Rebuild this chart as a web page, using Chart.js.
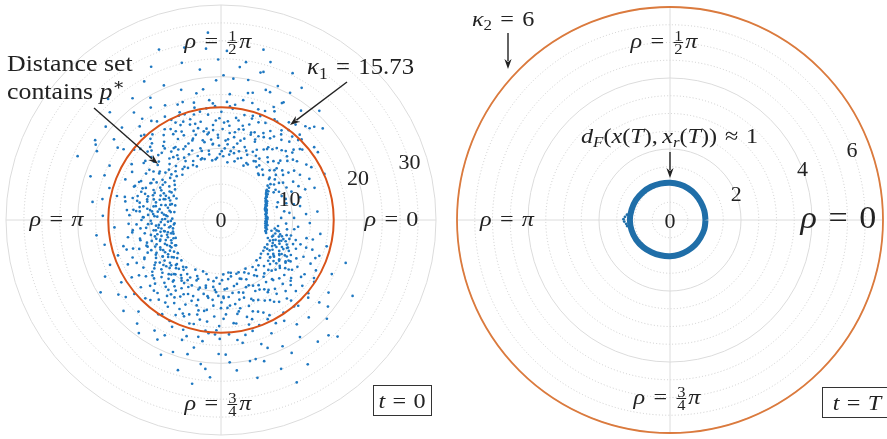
<!DOCTYPE html>
<html>
<head>
<meta charset="utf-8">
<script src="https://cdn.jsdelivr.net/npm/chart.js@4"></script>
<style>
  html,body{margin:0;padding:0;background:#fff;}
  #wrap{position:relative;width:887px;height:439px;overflow:hidden;}
  canvas{position:absolute;top:0;}
  #cvT0{left:0;} #cvT{left:443px;}
</style>
</head>
<body>
<div id="wrap">
  <canvas id="cvT0" width="443" height="439"></canvas>
  <canvas id="cvT" width="444" height="439"></canvas>
</div>
<script>
// radial ranges and grid rings
const rMaxT0 = 30, rMaxT = 6;
const ticksT0 = [10, 20, 30];
const ticksT = [2, 4, 6];
const minorT0 = 2.5, minorT = 0.5;
const kappa1 = 15.73;   // distance bound at t = 0
const kappa2 = 6;       // distance bound at t = T

// samples at t = 0 as [angle deg, distance]
const cloudT0 = [
  // thin streak right of the origin
  [-16,6.55],[-13.6,6.38],[-11.5,6.53],[-9,6.38],[-7.4,6.25],[-5.4,6.43],[-3.6,6.31],[-1.8,6.2],[0,6.35],[1.8,6.25],
  [3.6,6.41],[5.4,6.33],[7.4,6.25],[9,6.43],[10.9,6.36],[12.3,6.55],[14.2,6.5],[16.2,6.46],[17.4,6.7],[19.2,6.67],
  [21,6.7],[22,6.95],[24,6.9],[25.8,6.89],[26.6,7.16],[28.2,7.2],[29,7.43],[31,7.36],[31.2,7.72],[33.3,7.65],
  [33.9,8.07],[36.4,8.08],[35.9,8.52],[-14.5,6.45],[-10,6.3],[-6.5,6.5],[-2.5,6.4],[1,6.45],[4.5,6.3],[8,6.4],
  [11.5,6.5],[15,6.38],[18.5,6.55],[20,6.8],[23,6.75],[27,7.05],[30,7.25],[32.5,7.5],[-4.5,6.2],[2.8,6.5],[13,6.3],
  // lower right cluster
  [-12,7.2],[-14,7.8],[-16,8.4],[-18,7.5],[-20,8.1],[-22,8.8],[-24,7.9],[-26,8.6],[-28,9.2],[-30,8.3],
  [-17,9.1],[-21,7.0],[-25,9.6],[-19,8.9],[-23,7.4],[-27,8.0],[-31,9.5],[-33,8.7],[-35,9.9],[-15,8.8],
  [-13,9.4],[-29,10.2],[-11,8.2],[-36,8.1],[-38,9.3],[-20.5,9.8],[-24.5,10.4],[-9,7.6],[-32,7.6],[-18.5,10.6],
  [-8,9.3],[-5,10.8],[2,8.4],[6,9.6],[10,11.2],[-2,12.4],[13,8.0],[4,11.9],[-6,8.0],
  [-12,13.1],[-22,14.2],[-18,12.5],[-8,14.0],[5,13.5],[-28,15.0],
  [-39.2,10.6],[-37.4,8.6],[-36.2,11.7],[-34.7,9.0],[-33.5,10.8],[-32.0,8.0],[-30.8,11.3],[-29.3,9.7],[-27.8,7.3],[-26.6,10.9],
  [-25.1,8.3],[-23.9,9.3],[-22.4,10.1],[-21.2,7.8],[-19.7,8.6],[-18.2,9.5],[-16.7,7.6],[-15.5,9.9],[-13.7,8.5],[-12.5,10.0],
  [-10.6,7.9],[-7.2,10.3],[-3.1,9.1],[1.6,10.2],[7.8,8.9],[12.1,10.4],[17.3,8.3],[21.5,9.1],[23.6,11.8],[26.4,10.2],
  [29.8,12.7],[32.6,9.6],[35.1,11.5],[37.7,13.4],[39.4,9.9],[27.7,8.3],[33.8,8.9],[30.3,14.6],[19.0,13.8],[14.4,9.4],
  // upper right
  [18,9.5],[22,10.6],[26,9.0],[28,11.4],[31,10.1],[34,12.3],[37,9.4],[39,11.0],[20,12.5],[25,13.6],
  [33,14.2],[36,10.7],[40,13.1],[29,8.7],[16,11.5],[24,15.8],[38,16.5],[35,16.5],
  [41,9.0],[43,10.2],[45,11.7],[47,8.6],[49,12.9],[51,10.4],[53,14.0],[55,9.3],[57,11.8],[59,13.3],
  [42,14.8],[46,15.5],[50,8.2],[54,12.2],[58,10.1],[44,12.8],[52,16.9],[48,17.6],[56,15.1],[45,18.4],
  [42,19.1],[46,17.8],[45,15.9],[48.0,20.5],[53.8,18.9],[58.6,21.6],
  [61,9.4],[63,11.0],[64,13.5],[66,8.7],[67,12.2],[69,14.6],[70,10.3],[72,9.1],[73,15.2],[74,11.8],
  [76,13.0],[77,8.4],[78,10.9],[80,14.1],[81,12.4],[82,9.7],[84,15.6],[85,11.3],[86,13.8],[87,10.0],
  [88,8.9],[89,12.7],[62,15.9],[68,16.4],[75,16.9],[83,16.2],[65,10.5],[71,12.9],[79,9.5],
  [62,18.6],[67,20.3],[71,19.2],[74,21.5],[78,18.1],[81,22.3],[85,19.8],[88,23.6],[64,22.8],[76,24.5],
  [83,21.5],[75,21.3],[89,20.2],[76,18.3],[69,19.1],[61.5,20.2],[62.5,18.4],[65.0,17.4],[72.6,23.1],[79.0,19.9],[86.0,17.6],
  [40.5,8.8],[41.7,12.4],[42.9,10.6],[44.1,14.1],[45.6,9.7],[46.8,13.2],[48.3,11.0],[49.5,15.3],[50.7,9.1],[52.2,12.7],
  [53.4,10.9],[54.9,14.6],[56.1,8.9],[57.6,13.8],[58.8,11.5],[60.3,15.8],[61.5,10.2],[62.7,13.0],[64.2,8.6],[65.4,14.9],
  [66.6,11.9],[68.1,9.8],[69.3,15.5],[70.8,12.6],[72.0,10.7],[73.5,13.9],[74.7,8.9],[76.2,11.4],[77.4,15.0],[78.9,12.9],
  [80.1,10.3],[81.6,14.4],[82.8,9.2],[84.3,12.2],[85.5,15.9],[86.7,11.1],[88.2,13.6],[89.4,9.6],
  [40.9,15.0],[47.3,16.2],[55.2,16.6],[63.8,16.9],[71.4,16.3],[79.5,17.0],[87.1,16.5],[44.7,11.3],[51.3,8.3],
  [59.4,9.5],[67.5,8.2],[75.3,9.9],[83.7,8.1],[43.4,13.7],[57.0,12.1],[65.9,12.8],[73.0,14.8],[81.0,11.7],[89.8,15.1],
  [48.9,14.5],[61.0,14.2],[69.0,13.1],[77.0,13.5],[84.9,13.2],[53.0,15.7],[85.0,10.6],
  // upper left
  [91,9.2],[92,11.5],[93,13.9],[95,8.5],[96,10.7],[97,14.8],[98,12.3],[100,9.8],[101,15.4],[102,11.1],
  [104,13.2],[105,8.8],[106,10.4],[108,14.0],[109,12.0],[110,9.5],[112,15.7],[113,11.6],[114,13.5],[116,10.2],
  [117,8.6],[118,12.8],[119,14.5],[94,16.3],[103,16.8],[111,16.1],[99,12.9],[107,9.0],[115,15.0],
  [92,19.5],[95,24.0],[98,21.2],[101,18.0],[104,22.6],[107,19.0],[110,25.3],[113,20.4],[116,17.8],[119,22.1],[94,26.2],
  [91.0,22.4],[97.8,18.4],[102.0,24.6],[108.0,17.3],[114.5,23.5],[120.0,19.7],[127.9,17.9],[135.9,21.6],[143.0,18.7],
  [90.9,14.2],[92.1,11.9],[93.6,8.7],[94.8,13.3],[96.3,10.6],[97.5,15.7],[99.0,12.1],[100.2,9.3],[101.7,14.0],[102.9,11.4],
  [104.4,15.2],[105.6,10.0],[107.1,13.0],[108.3,8.9],[109.8,11.8],[111.0,14.7],[112.5,10.5],[113.7,12.9],[115.2,9.1],[116.4,15.6],
  [117.9,11.2],[119.1,13.7],[120.6,10.1],[121.8,14.9],[123.3,12.0],[124.5,9.0],[126.0,13.5],[127.2,11.0],[128.7,15.3],[129.9,9.8],
  [131.4,12.5],[132.6,10.6],[134.1,14.2],[135.3,8.7],[136.8,11.9],[138.0,13.1],[139.5,10.2],
  [95.6,16.8],[103.3,16.1],[110.6,17.2],[118.5,16.4],[125.1,16.9],[133.5,16.2],[91.5,10.4],[98.4,8.4],[106.5,12.4],[114.3,8.2],
  [122.4,8.6],[130.5,8.3],[137.4,9.4],[97.0,11.3],[105.0,13.9],[113.1,14.4],[121.2,11.5],[128.2,12.7],[138.6,15.0],
  [93.0,15.9],[101.0,12.6],[109.0,15.6],[117.0,13.9],[124.0,10.9],[132.0,14.4],[139.0,12.4],[95.0,12.6],[107.0,14.7],[115.8,11.4],
  [121,9.6],[122,12.0],[124,14.3],[125,10.4],[127,8.9],[128,13.1],[130,11.2],[131,15.0],[133,9.3],[134,12.6],
  [136,10.1],[137,14.0],[139,11.7],[140,8.5],[142,13.4],[143,10.8],[145,12.2],[146,9.4],[148,14.7],[149,11.0],
  [123,16.4],[132,16.0],[141,15.6],[126,11.8],[135,13.7],[144,16.8],
  [122,18.5],[126,21.0],[129,19.3],[133,23.1],[137,18.9],[141,20.7],[145,17.6],[149,20.4],[131,17.3],[147.6,20.8],
  // left band
  [151,8.2],[152,9.6],[153,7.4],[155,8.8],[156,10.3],[157,7.9],[158,9.1],[160,8.5],[161,11.2],[162,7.2],
  [163,9.8],[165,8.0],[166,10.6],[167,7.6],[168,9.3],[170,8.7],[171,7.1],[172,10.0],[173,8.3],[175,9.5],
  [176,7.5],[177,8.9],[178,10.8],[179,7.8],[154,12.4],[159,13.0],[164,12.1],[169,13.6],[174,11.9],[157,14.5],
  [167,14.9],[177,12.8],[152,11.0],[171,11.5],[158,11.8],[162,10.7],[166,12.7],[170,11.0],[174,13.2],[176,10.2],
  [160,10.1],[168,11.6],[154,17.3],[159,17.4],[164,16.2],[172,18.1],[178,16.5],
  [151.0,19.8],[156.0,21.9],[161.5,19.2],[170.0,16.8],[187.0,17.5],[202.0,16.7],
  [140.4,9.2],[141.6,10.9],[142.8,8.1],[144.3,11.6],[145.5,9.9],[147.0,8.6],[148.2,12.3],[149.7,10.4],[150.9,7.9],[152.4,11.1],
  [153.6,9.3],[155.1,12.6],[156.3,8.4],[157.8,10.0],[159.0,7.6],[160.5,11.8],[161.7,9.0],[163.2,7.4],[164.4,10.7],[165.9,8.6],
  [167.1,12.0],[168.6,9.6],[169.8,7.3],[171.3,10.4],[172.5,8.9],[174.0,11.4],[175.2,7.7],[176.7,9.3],[177.9,10.9],[179.4,8.2],
  [180.6,9.8],[181.8,7.4],[183.3,10.2],[184.5,8.7],[186.0,11.3],[187.2,7.1],[188.7,9.5],[189.9,10.8],[191.4,8.0],[192.6,9.1],
  [194.1,11.6],[195.3,7.8],[196.8,10.1],[198.0,8.9],[199.5,12.1],[200.7,9.6],[202.2,7.5],[203.4,10.6],[204.9,8.3],[206.1,11.9],
  [207.6,9.1],[208.8,7.9],[210.3,10.5],[143.6,13.4],[151.6,14.1],[158.4,12.9],[166.5,13.8],[173.4,12.3],
  [182.4,12.9],[190.5,13.2],[197.4,13.8],[205.5,14.4],[146.4,7.7],[154.2,6.9],
  [162.3,6.7],[170.4,6.6],[178.5,6.8],[185.4,6.6],[193.5,6.9],[201.6,6.8],[209.4,7.2],
  [148.8,9.5],[156.9,11.4],[164.9,9.4],[172.9,9.7],[180.0,11.1],[188.1,8.4],[196.2,9.4],[204.3,9.3],
  [159.6,8.3],[174.6,8.0],[191.1,8.6],[207.0,10.1],[186.6,12.4],[199.0,11.0],
  [181,7.0],[182,8.4],[183,9.7],[184,6.5],[185,7.9],[186,10.5],[187,8.8],[188,7.3],[189,9.2],[190,6.8],
  [191,8.1],[192,10.0],[193,7.6],[194,9.5],[195,8.6],[196,6.9],[197,10.8],[198,7.8],[199,9.0],[200,8.2],
  [201,7.1],[202,9.9],[203,8.5],[204,11.2],[205,7.6],[206,9.4],[207,8.0],[208,10.3],[209,7.3],[210,9.0],
  [183,11.8],[188,12.5],[193,11.6],[198,12.9],[203,13.4],[207,12.0],[185,9.1],[195,7.2],[200,10.9],
  [184,14.9],[192,16.6],[199,15.2],[206,18.0],[195,14.1],
  // lower left
  [211,8.3],[212,9.6],[213,10.9],[214,7.9],[215,9.0],[216,11.5],[217,8.6],[218,10.2],[219,12.3],[220,9.3],
  [221,8.1],[222,11.0],[223,9.8],[224,12.8],[225,8.7],[226,10.5],[227,9.2],[228,11.8],[229,13.5],[230,9.9],
  [231,8.4],[232,10.9],[233,12.2],[234,9.5],[235,11.3],[236,13.9],[237,10.1],[238,8.9],[239,12.6],[240,11.0],
  [214,13.8],[220,14.6],[226,15.2],[232,14.1],[238,15.5],[217,12.0],[229,10.0],
  [216,17.7],[223,18.6],[228,17.2],[234,19.5],[239,18.0],[212,16.4],[207,13.2],
  [211.0,19.6],[219.0,17.1],[231.0,18.6],[244.0,17.9],[256.0,19.3],[260.0,23.2],
  [211.5,12.7],[213.0,8.8],[214.2,11.2],[215.7,9.7],[216.9,13.1],[218.4,8.4],[219.6,10.8],
  [221.1,12.4],[222.3,9.4],[223.8,11.5],[225.0,8.9],[226.5,13.6],[227.7,10.3],[229.2,9.0],[230.4,12.1],[231.9,10.7],[233.1,8.7],
  [234.6,13.0],[235.8,9.8],[237.3,11.7],[238.5,14.2],[239.7,10.2],[212.7,14.8],[220.5,15.9],[228.6,14.9],[236.4,15.8],
  [217.5,7.6],[225.6,7.9],[233.7,8.2],[212.1,9.6],[220.2,10.0],[228.3,11.0],[236.1,12.5],[222.9,13.5],[214.8,10.4],
  [241,9.6],[242,12.1],[244,10.4],[245,13.7],[246,11.3],[248,9.1],[249,14.4],[250,12.0],[252,10.2],[253,15.1],
  [254,11.6],[256,13.0],[257,9.4],[258,14.2],[260,10.8],[261,12.7],[262,15.6],[264,11.2],[265,9.8],[266,13.5],
  [268,10.6],[269,14.8],[243,15.8],[251,16.2],[259,16.6],[267,16.0],[247,8.5],[255,7.8],[263,8.6],[270,12.3],
  [242,18.9],[246,20.6],[250,19.6],[254,21.8],[258,18.2],[262,20.3],[266,22.0],[269,18.7],[252,17.6],[264,20.9],
  [240.6,13.3],[241.8,9.1],[243.3,11.6],[244.5,14.7],[246.0,10.0],[247.2,12.8],[248.7,8.8],[249.9,11.3],[251.4,13.9],[252.6,9.9],
  [254.1,12.4],[255.3,15.0],[256.8,10.6],[258.0,8.5],[259.5,12.9],[260.7,11.0],[262.2,14.3],[263.4,9.4],[264.9,12.0],[266.1,10.1],
  [267.6,15.4],[268.8,8.9],[245.4,16.4],[253.5,16.9],[261.3,17.1],[242.7,7.8],[250.8,7.6],[257.4,9.7],[265.5,8.1],
  [247.8,14.1],[255.9,13.6],[263.7,15.9],
  // lower right
  [271,8.4],[272,10.9],[273,13.2],[275,9.6],[276,12.0],[277,14.5],[279,10.3],[280,8.0],[281,13.0],[283,11.4],
  [284,9.2],[285,14.0],[287,10.6],[288,12.6],[289,8.7],[291,11.8],[292,13.8],[293,9.9],[295,12.3],[296,10.2],
  [297,14.9],[299,11.1],[274,16.0],[282,16.4],[290,15.6],[298,16.3],[278,7.4],[286,7.8],[294,8.0],
  [272,18.8],[276,21.1],[280,17.4],[284,20.0],[288,18.2],[292,22.4],[296,19.6],[295,25.0],[287,20.6],[281.6,20.1],
  [273.5,19.9],[283.0,22.6],[290.0,19.0],[298.0,21.0],[306.0,18.0],[313.0,22.0],[321.0,19.2],[334.0,17.2],[341.0,18.4],
  [270.3,11.5],[271.5,13.8],[273.0,9.7],[274.2,12.3],[275.7,10.8],[276.9,8.3],[278.4,14.6],[279.6,11.9],
  [281.1,9.4],[282.3,12.6],[283.8,10.4],[285.0,15.1],[286.5,11.3],[287.7,8.6],[289.2,13.5],[290.4,10.0],[291.9,12.1],[293.1,9.0],
  [294.6,14.2],[295.8,11.0],[297.3,8.4],[298.5,12.8],[300.0,10.5],[301.5,13.1],[302.7,9.3],[304.2,11.8],[305.4,14.0],[306.9,9.9],
  [308.1,12.2],[309.6,8.2],[310.8,10.9],[312.3,13.4],[313.5,9.6],[315.0,11.5],[316.5,14.4],[317.7,10.3],[319.2,8.7],[320.4,12.7],
  [321.9,9.8],[323.1,11.2],[324.6,13.7],[325.8,8.9],[327.3,10.7],[328.5,12.5],[329.7,9.4],
  [269.4,16.6],[277.8,16.9],[285.9,16.1],[294.0,17.3],[302.1,16.6],[310.2,15.8],[318.3,16.3],[326.4,15.6],
  [272.4,7.6],[280.5,7.5],[288.6,7.7],[296.7,7.6],[303.9,7.9],[311.4,7.5],[319.8,7.3],[327.9,7.2],
  [271.8,10.7],[279.9,13.3],[287.4,14.5],[295.2,15.3],[303.0,12.0],[311.0,14.9],[318.9,12.9],
  [301,9.0],[302,11.4],[303,13.6],[305,8.5],[306,10.7],[307,12.9],[309,9.6],[310,14.3],[311,11.1],[313,8.8],
  [314,12.4],[315,10.0],[317,13.3],[318,9.2],[319,11.7],[321,14.6],[322,10.4],[323,8.6],[325,12.1],[326,9.8],
  [327,13.9],[329,11.0],[304,15.6],[312,16.1],[320,15.9],[328,15.3],[316,7.6],[324,7.3],
  [301,23.5],[304,19.7],[308.5,21.7],[312,18.3],[317,20.2],[320,17.9],[326,18.1],[330,21.2],[315,23.0],
  [331,10.5],[333,11.8],[336,12.6],[339,11.2],[342,13.4],[345,10.8],[348,12.2],[334,13.9],[340,14.6],[346,15.2],
  [337,10.0],[343,11.6]
];

// samples at t = T: thick ring of distances near 1
const ringAngleT = [0,15,30,45,60,75,90,105,120,135,150,165,180,195,210,225,240,255,270,285,300,315,330,345];
const ringDistT  = [1.00,1.00,1.00,1.01,1.02,1.03,1.04,1.05,1.07,1.09,1.11,1.12,1.13,1.12,1.10,1.07,1.04,1.02,1.01,1.00,0.99,0.99,0.99,1.00];
const ringStrayT = [[176,1.27],[179,1.31],[182,1.29],[185,1.24],[173,1.22],[188,1.22]];

const SERIF = '"Liberation Serif","DejaVu Serif",serif';
const STRETCH = 1.1;
const INK = '#222';
const toXY = ([deg, r]) => ({ x: r*Math.cos(deg*Math.PI/180), y: r*Math.sin(deg*Math.PI/180) });

// tiny math-ish text layout: italics, sub/superscripts, stacked fractions
function layoutMath(ctx, parts, size){
  let w = 0; const out = [];
  for(const p of parts){
    if(p.g != null){ w += p.g*size; continue; }
    if(p.frac){
      const fs = size*0.68; ctx.font = `${fs}px ${SERIF}`;
      const fw = Math.max(ctx.measureText(p.frac[0]).width, ctx.measureText(p.frac[1]).width) + size*0.16;
      out.push({ frac:p.frac, x:w, w:fw, fs }); w += fw; continue;
    }
    const fs = (p.sub||p.sup) ? size*0.7 : size;
    const font = `${p.i?'italic ':''}${fs}px ${SERIF}`;
    ctx.font = font;
    out.push({ s:p.s, font, x:w, dy: p.sub ? size*0.2 : p.sup ? -size*0.4 : 0 });
    w += ctx.measureText(p.s).width;
  }
  return { w, out };
}
function drawMath(ctx, parts, x, baseY, size, align){
  const { w, out } = layoutMath(ctx, parts, size);
  const x0 = align === 'left' ? x : x - w*STRETCH/2;
  ctx.save(); ctx.translate(x0, baseY); ctx.scale(STRETCH, 1);
  ctx.fillStyle = INK; ctx.textBaseline = 'alphabetic';
  for(const o of out){
    if(o.frac){
      const mid = o.x + o.w/2, axis = -size*0.25;
      ctx.font = `${o.fs}px ${SERIF}`; ctx.textAlign = 'center';
      ctx.fillText(o.frac[0], mid, axis - size*0.09);
      ctx.fillText(o.frac[1], mid, axis + size*0.07 + o.fs*0.68);
      ctx.fillRect(o.x + size*0.05, axis - 0.5, o.w - size*0.1, 1);
    } else { ctx.font = o.font; ctx.textAlign = 'left'; ctx.fillText(o.s, o.x, o.dy); }
  }
  ctx.restore();
}
function arrow(ctx, x1, y1, x2, y2){
  const a = Math.atan2(y2-y1, x2-x1), L = 10, W = 3.6;
  ctx.save(); ctx.strokeStyle = INK; ctx.fillStyle = INK; ctx.lineWidth = 1.4;
  ctx.beginPath(); ctx.moveTo(x1, y1); ctx.lineTo(x2 - L*0.8*Math.cos(a), y2 - L*0.8*Math.sin(a)); ctx.stroke();
  ctx.beginPath(); ctx.moveTo(x2, y2);
  ctx.lineTo(x2 - L*Math.cos(a) + W*Math.sin(a), y2 - L*Math.sin(a) - W*Math.cos(a));
  ctx.lineTo(x2 - L*0.7*Math.cos(a), y2 - L*0.7*Math.sin(a));
  ctx.lineTo(x2 - L*Math.cos(a) - W*Math.sin(a), y2 - L*Math.sin(a) + W*Math.cos(a));
  ctx.closePath(); ctx.fill(); ctx.restore();
}
function boxLabel(ctx, parts, x, y, w, h, baseY){
  ctx.save(); ctx.fillStyle = '#fff'; ctx.strokeStyle = '#333'; ctx.lineWidth = 1;
  ctx.fillRect(x, y, w, h); ctx.strokeRect(x + 0.5, y + 0.5, w, h); ctx.restore();
  drawMath(ctx, parts, x + w/2, baseY, 22);
}
const rhoEq = tail => [{s:'ρ',i:1},{g:.34},{s:'='},{g:.34}, ...tail];

// polar grid, bound circle and labels on top of a square scatter chart
function polarFrame(cfg){
  const geo = chart => {
    const { x, y } = chart.scales, cx = x.getPixelForValue(0), cy = y.getPixelForValue(0);
    const rp = v => x.getPixelForValue(v) - cx;
    return { cx, cy, rp, R: rp(cfg.max) };
  };
  return {
    id: 'polarFrame',
    beforeDatasetsDraw(chart){
      const ctx = chart.ctx, { cx, cy, rp, R } = geo(chart);
      ctx.save();
      const n = Math.round(cfg.max/cfg.minor);
      for(let i = 1; i <= n; i++){
        const v = i*cfg.minor, major = cfg.ticks.some(t => Math.abs(t - v) < 1e-9);
        ctx.beginPath(); ctx.arc(cx, cy, rp(v), 0, 2*Math.PI);
        ctx.setLineDash(major ? [] : [1, 2.2]);
        ctx.strokeStyle = major ? '#dcdcdc' : '#c2c2c2'; ctx.lineWidth = major ? 1 : 0.8;
        ctx.stroke();
      }
      ctx.setLineDash([]); ctx.strokeStyle = '#dcdcdc'; ctx.lineWidth = 1;
      ctx.beginPath(); ctx.moveTo(cx - R, cy); ctx.lineTo(cx + R, cy); ctx.moveTo(cx, cy - R); ctx.lineTo(cx, cy + R); ctx.stroke();
      ctx.restore();
    },
    afterDatasetsDraw(chart){
      const ctx = chart.ctx, { cx, cy, rp, R } = geo(chart);
      ctx.save(); ctx.beginPath(); ctx.arc(cx, cy, rp(cfg.kappa), 0, 2*Math.PI);
      ctx.strokeStyle = cfg.kappaColor; ctx.lineWidth = cfg.kappaWidth; ctx.stroke(); ctx.restore();
      const a = cfg.tickAngle*Math.PI/180;
      drawMath(ctx, [{s:'0'}], cx, cy + cfg.zeroDy, 20);
      cfg.ticks.forEach(t => {
        const r = Math.min(rp(t), R - 18);
        drawMath(ctx, [{s:String(t)}], cx + r*Math.cos(a), cy - r*Math.sin(a) + 6.6, 20);
      });
      cfg.annotate(ctx, cx, cy);
    }
  };
}

const baseOptions = (max, pad) => ({
  responsive: false, animation: false, events: [],
  layout: { padding: pad },
  scales: {
    x: { type: 'linear', min: -max, max: max, display: false },
    y: { type: 'linear', min: -max, max: max, display: false }
  },
  plugins: { legend: { display: false }, tooltip: { enabled: false } }
});

new Chart(document.getElementById('cvT0'), {
  type: 'scatter',
  data: { datasets: [{ data: cloudT0.map(toXY), pointRadius: 1.35, pointBorderWidth: 0, pointBackgroundColor: '#1f78c1' }] },
  options: baseOptions(rMaxT0, { left: 6, right: 7, top: 5, bottom: 4 }),
  plugins: [polarFrame({
    max: rMaxT0, ticks: ticksT0, minor: minorT0, kappa: kappa1, kappaColor: '#d95319', kappaWidth: 2,
    tickAngle: 17, zeroDy: 6.5,
    annotate(ctx, cx, cy){
      drawMath(ctx, rhoEq([{s:'π',i:1}]), cx - 164.5, cy + 5.5, 22);
      drawMath(ctx, rhoEq([{s:'0'}]), cx + 170.5, cy + 5.5, 22);
      drawMath(ctx, rhoEq([{frac:['1','2']},{g:.04},{s:'π',i:1}]), cx - 3, 48, 22);
      drawMath(ctx, rhoEq([{frac:['3','4']},{g:.04},{s:'π',i:1}]), cx - 3, 410, 22);
      drawMath(ctx, [{s:'Distance set'}], 7, 71, 23.5, 'left');
      drawMath(ctx, [{s:'contains '},{s:'p',i:1},{s:'∗',sup:1}], 7, 99, 23.5, 'left');
      arrow(ctx, 94, 108, 158, 164);
      drawMath(ctx, [{s:'κ',i:1},{s:'1',sub:1},{g:.34},{s:'='},{g:.34},{s:String(kappa1)}], 307, 74, 22.5, 'left');
      arrow(ctx, 347, 82, 290, 125);
      boxLabel(ctx, [{s:'t',i:1},{g:.3},{s:'='},{g:.3},{s:'0'}], 373, 385, 58, 30, 408);
    }
  })]
});

const ringPts = ringAngleT.map((a, i) => toXY([a, ringDistT[i]]));
new Chart(document.getElementById('cvT'), {
  type: 'scatter',
  data: { datasets: [
    { data: ringPts.concat([ringPts[0]]), showLine: true, tension: 0.4, borderColor: '#1f6ea8', borderWidth: 6, pointRadius: 0 },
    { data: ringStrayT.map(toXY), pointRadius: 1.4, pointBorderWidth: 0, pointBackgroundColor: '#1f6ea8' }
  ] },
  options: baseOptions(rMaxT, { left: 14, right: 0, top: 5, bottom: 4 }),
  plugins: [polarFrame({
    max: rMaxT, ticks: ticksT, minor: minorT, kappa: kappa2, kappaColor: '#db7a3d', kappaWidth: 1.8,
    tickAngle: 21, zeroDy: 7.5,
    annotate(ctx, cx, cy){
      drawMath(ctx, rhoEq([{s:'π',i:1}]), cx - 163, cy + 5.5, 22);
      drawMath(ctx, rhoEq([{s:'0'}]), cx + 168.5, cy + 8, 31);
      drawMath(ctx, rhoEq([{frac:['1','2']},{g:.04},{s:'π',i:1}]), cx - 6, 48, 22);
      drawMath(ctx, rhoEq([{frac:['3','4']},{g:.04},{s:'π',i:1}]), cx - 3, 404, 22);
      drawMath(ctx, [{s:'κ',i:1},{s:'2',sub:1},{g:.34},{s:'='},{g:.34},{s:String(kappa2)}], 29, 26, 22, 'left');
      arrow(ctx, 65, 33, 65, 69);
      drawMath(ctx, [{s:'d',i:1},{s:'F',i:1,sub:1},{s:'('},{s:'x',i:1},{s:'('},{s:'T',i:1},{s:')'},{s:','},{g:.18},
        {s:'x',i:1},{s:'r',i:1,sub:1},{s:'('},{s:'T',i:1},{s:')'},{s:')'},{g:.32},{s:'≈'},{g:.32},{s:'1'}], cx - 0.5, 143, 22);
      arrow(ctx, cx, 152, cx, 178);
      boxLabel(ctx, [{s:'t',i:1},{g:.3},{s:'='},{g:.3},{s:'T',i:1}], 379, 387, 70, 30, 410);
    }
  })]
});
</script>
</body>
</html>
